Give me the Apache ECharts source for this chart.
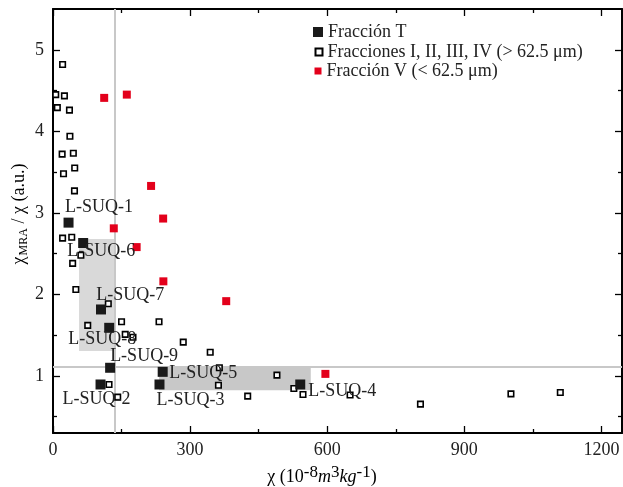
<!DOCTYPE html>
<html>
<head>
<meta charset="utf-8">
<script src="https://cdn.jsdelivr.net/npm/echarts@6/dist/echarts.min.js"></script>
<style>html,body{margin:0;padding:0;background:#fff}#c{width:623px;height:487px}</style>
</head>
<body>
<div id="c"></div>
<script>
// ---- data ----
const xTicks = [0, 300, 600, 900, 1200];
const xMinorTicks = [150, 450, 750, 1050];
const yTicks = [1, 2, 3, 4, 5];
const yMinorTicks = [0.5, 1.5, 2.5, 3.5, 4.5];

const seriesNames = ['Fracción T', 'Fracciones I, II, III, IV (> 62.5 μm)', 'Fracción V (< 62.5 μm)'];

const fracTNames = ['L-SUQ-1','L-SUQ-2','L-SUQ-3','L-SUQ-4','L-SUQ-5','L-SUQ-6','L-SUQ-7','L-SUQ-8','L-SUQ-9'];
const fracTValues = [[34,2.88],[104,0.895],[233,0.895],[541,0.895],[240,1.05],[66,2.63],[105,1.815],[123,1.59],[125,1.10]];

const fracIIVValues = [
  [21,4.82],[6,4.45],[25,4.435],[9.5,4.29],[36,4.26],[37,3.94],[20,3.72],[44.5,3.73],[23,3.48],[47.5,3.55],[47,3.27],
  [21,2.69],[41,2.70],[61,2.48],[43,2.38],[50,2.06],[121,1.885],[76,1.62],[150,1.665],[232,1.665],[158,1.51],[175,1.475],
  [285,1.415],[122.6,0.895],[141.6,0.74],[344,1.29],[364,1.10],[362,0.886],[426,0.752],[490,1.01],[527,0.846],[547,0.772],
  [650,0.766],[804,0.654],[1002,0.78],[1110,0.797]
];

const fracVValues = [[112,4.41],[161.5,4.45],[214.6,3.33],[241,2.93],[133,2.81],[183,2.58],[241.5,2.16],[379,1.917],[596,1.025]];

const refLineX = 136;
const refLineY = 1.11;
const shadedBoxes = [[[57,2.68],[136,1.306]], [[232,1.11],[564,0.825]]];

// ---- presentation ----
const FONT = "'Liberation Serif','DejaVu Serif',serif";
const TXT = '#222';
const labelOffsets = {
  'L-SUQ-1':[-3.5,-15],'L-SUQ-2':[-38,15],'L-SUQ-3':[-3,16],'L-SUQ-4':[8,6.5],'L-SUQ-5':[6.5,1.5],
  'L-SUQ-6':[-16,8],'L-SUQ-7':[-4.7,-14],'L-SUQ-8':[-41,11],'L-SUQ-9':[0,-12]
};
const boxColors = ['#d9d9d9', '#c8c8c8'];

const chart = echarts.init(document.getElementById('c'), null, {renderer:'canvas'});

function xAx(pos, ticks, len, labels, line){
  return {type:'value', min:0, max:1245, position:pos,
    axisLine:{show:line, onZero:false, lineStyle:{color:'#000', width:2}},
    axisTick:{show:true, inside:true, length:len, customValues:ticks, lineStyle:{color:'#000', width:1.3}},
    axisLabel:{show:labels, customValues:ticks, formatter:(v)=>String(v), fontFamily:FONT, fontSize:18, color:TXT, margin:8},
    splitLine:{show:false}};
}
function yAx(pos, ticks, len, labels, line){
  return {type:'value', min:0.3, max:5.5, position:pos,
    axisLine:{show:line, onZero:false, lineStyle:{color:'#000', width:2}},
    axisTick:{show:true, inside:true, length:len, customValues:ticks, lineStyle:{color:'#000', width:1.3}},
    axisLabel:{show:labels, customValues:ticks, formatter:(v)=>String(v), fontFamily:FONT, fontSize:18, color:TXT, margin:9},
    splitLine:{show:false}};
}

const option = {
  animation:false,
  backgroundColor:'#fff',
  grid:{left:53, right:1, top:9, bottom:54, containLabel:false},
  xAxis:[
    xAx('bottom', xTicks, 7, true, true),
    xAx('bottom', xMinorTicks, 4, false, false),
    xAx('top', xTicks, 7, false, true),
    xAx('top', xMinorTicks, 4, false, false)
  ],
  yAxis:[
    yAx('left', yTicks, 7, true, true),
    yAx('left', yMinorTicks, 4, false, false),
    yAx('right', yTicks, 7, false, true),
    yAx('right', yMinorTicks, 4, false, false)
  ],
  legend:[
    {data:[seriesNames[0]], orient:'vertical', left:313, top:22, padding:0, itemWidth:10, itemHeight:10,
     textStyle:{fontFamily:FONT, fontSize:18, color:TXT, lineHeight:20}},
    {data:[seriesNames[1]], orient:'vertical', left:314.5, top:42, padding:0, itemWidth:7, itemHeight:7,
     textStyle:{fontFamily:FONT, fontSize:18, color:TXT, lineHeight:20}},
    {data:[seriesNames[2]], orient:'vertical', left:314.5, top:61, padding:0, itemWidth:7, itemHeight:7,
     textStyle:{fontFamily:FONT, fontSize:18, color:TXT, lineHeight:20}}
  ],
  graphic:[
    {type:'text', x:322, y:476, z:100, style:{
      text:'{n|χ (10}{s|-8}{i|m}{s|3}{i|kg}{s|-1}{n|)}', align:'center', verticalAlign:'middle',
      rich:{
        n:{fontFamily:FONT, fontSize:18, color:TXT, lineHeight:20, verticalAlign:'bottom'},
        i:{fontFamily:FONT, fontSize:18, fontStyle:'italic', color:TXT, lineHeight:20, verticalAlign:'bottom'},
        s:{fontFamily:FONT, fontSize:17, color:TXT, lineHeight:20, padding:[0,0,5,0], verticalAlign:'bottom'}
      }}},
    {type:'text', x:20, y:214, rotation:Math.PI/2, z:100, style:{
      text:'{n|χ}{b|MRA}{n| / χ (a.u.)}', align:'center', verticalAlign:'middle',
      rich:{
        n:{fontFamily:FONT, fontSize:18, color:TXT, lineHeight:20, verticalAlign:'top'},
        b:{fontFamily:FONT, fontSize:12, color:TXT, lineHeight:14, padding:[8,0,0,1], verticalAlign:'top'}
      }}}
  ],
  series:[
    {name:'refs', type:'scatter', data:[], z:1, silent:true,
     markArea:{silent:true, z:1, data: shadedBoxes.map((b,i)=>[
        {coord:b[0], itemStyle:{color:boxColors[i]}}, {coord:b[1]}])},
     markLine:{silent:true, z:1, symbol:'none', label:{show:false}, animation:false,
       lineStyle:{color:'#c8c8c8', width:2, type:'solid'},
       data:[{xAxis:refLineX}, {yAxis:refLineY}]}
    },
    {name:seriesNames[1], type:'scatter', symbol:'rect', symbolSize:5.5, z:3,
     itemStyle:{color:'#fff', borderColor:'#000', borderWidth:1.6, opacity:1},
     data:fracIIVValues},
    {name:seriesNames[2], type:'scatter', symbol:'rect', symbolSize:8, z:3,
     itemStyle:{color:'#e3001b', opacity:1},
     data:fracVValues},
    {name:seriesNames[0], type:'scatter', symbol:'rect', symbolSize:10, z:4,
     itemStyle:{color:'#1a1a1a', opacity:1},
     label:{show:true, position:'inside', align:'left', verticalAlign:'middle', formatter:'{b}',
       fontFamily:FONT, fontSize:18, color:TXT},
     data:fracTNames.map((n,i)=>({name:n, value:fracTValues[i], label:{offset:labelOffsets[n]}}))}
  ]
};
chart.setOption(option);
</script>
</body>
</html>
